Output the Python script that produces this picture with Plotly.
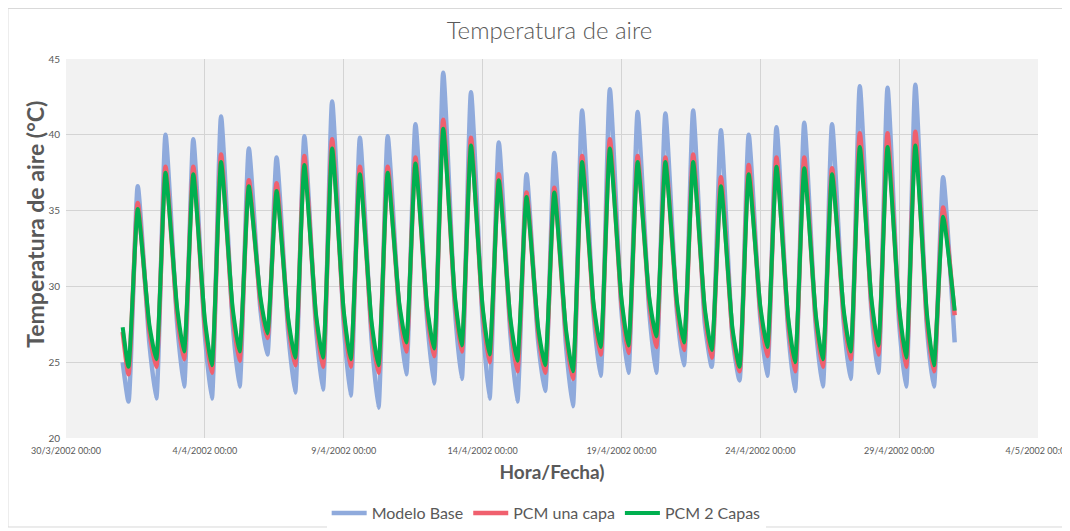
import pandas as pd
import plotly.graph_objects as go

# ---- data ----
dias = pd.date_range("2002-04-01", periods=30, freq="D")
inicio = pd.Timestamp("2002-04-01 01:00")

# daily minimum (~06:00), maximum (~14:00) and value at the following midnight
base_inicio = 25.0
base_min = [22.4, 22.6, 23.4, 22.6, 23.4, 25.5, 23.0, 23.2, 22.8, 22.0,
            24.2, 23.6, 23.9, 22.6, 22.4, 23.1, 22.1, 24.1, 24.3, 24.3,
            24.8, 24.7, 23.8, 24.1, 23.1, 23.4, 23.9, 24.3, 23.4, 23.4]
base_max = [36.6, 40.0, 39.7, 41.2, 39.1, 38.5, 39.9, 42.2, 39.8, 39.9,
            40.7, 44.1, 42.8, 39.5, 37.4, 38.8, 41.6, 43.0, 41.5, 41.4,
            41.6, 40.3, 40.0, 40.5, 40.8, 40.7, 43.2, 43.1, 43.3, 37.2]
base_noche = [26.3, 27.6, 26.8, 27.6, 28.5, 27.0, 27.3, 27.5, 26.6, 28.2,
              27.9, 28.6, 27.7, 26.9, 26.4, 26.2, 28.1, 28.4, 28.4, 28.3,
              27.6, 26.6, 27.9, 27.2, 27.3, 27.7, 28.4, 27.6, 27.3, 26.3]

una_inicio = 27.0
una_min = [24.2, 24.7, 25.2, 24.3, 25.1, 26.6, 24.8, 24.7, 24.7, 24.3,
           25.7, 25.4, 25.7, 25.0, 24.4, 24.3, 23.9, 25.5, 25.6, 26.0,
           25.8, 25.3, 24.4, 25.4, 24.4, 24.7, 25.2, 25.5, 24.7, 24.4]
una_max = [35.5, 37.9, 37.9, 38.7, 37.0, 36.8, 38.6, 39.7, 37.9, 37.9,
           38.5, 41.0, 39.8, 37.4, 36.2, 36.5, 38.6, 39.7, 38.6, 38.5,
           38.7, 37.2, 38.0, 38.5, 38.5, 37.8, 40.1, 40.1, 40.2, 35.2]
una_noche = [27.1, 28.2, 27.4, 28.2, 29.0, 27.6, 27.9, 28.1, 27.3, 28.6,
             28.4, 29.1, 28.4, 27.6, 27.0, 26.9, 28.5, 28.9, 29.0, 28.7,
             28.3, 26.9, 28.4, 27.7, 27.8, 28.2, 28.9, 28.3, 27.8, 28.1]

dos_inicio = 27.3
dos_min = [24.7, 25.2, 25.7, 24.8, 25.7, 26.9, 25.3, 25.3, 25.2, 24.8,
           26.3, 25.9, 26.1, 25.5, 25.1, 24.8, 24.4, 26.0, 26.1, 26.7,
           26.3, 25.8, 24.7, 26.0, 25.0, 25.2, 25.7, 26.1, 25.3, 24.8]
dos_max = [35.1, 37.5, 37.4, 38.2, 36.6, 36.3, 38.0, 39.1, 37.4, 37.5,
           38.1, 40.4, 39.3, 37.0, 35.9, 36.2, 38.2, 39.1, 38.2, 38.2,
           38.2, 36.6, 37.4, 37.9, 37.8, 37.4, 39.2, 39.2, 39.3, 34.6]
dos_noche = [27.5, 28.6, 27.8, 28.6, 29.3, 27.9, 28.2, 28.4, 27.7, 28.9,
             28.7, 29.4, 28.7, 27.9, 27.3, 27.2, 28.8, 29.2, 29.3, 29.0,
             28.6, 27.2, 28.7, 28.0, 28.1, 28.5, 29.2, 28.6, 28.2, 28.4]

x_ticks = pd.date_range("2002-03-30", "2002-05-04", freq="5D")
x_ticktext = [f"{d.day}/{d.month}/{d.year} 00:00" for d in x_ticks]
y_ticks = [20, 25, 30, 35, 40, 45]


def serie(v0, mins, maxs, noches):
    xs, ys = [inicio], [v0]
    for d, a, b, c in zip(dias, mins, maxs, noches):
        xs += [d + pd.Timedelta(hours=6), d + pd.Timedelta(hours=14),
               d + pd.Timedelta(hours=24)]
        ys += [a, b, c]
    return xs, ys


FONT = "Lato, 'Open Sans', sans-serif"
GRAY = "#595959"

fig = go.Figure()
for nombre, datos, color, ancho in [
    ("Modelo Base", (base_inicio, base_min, base_max, base_noche), "#8FAADC", 4.5),
    ("PCM una capa", (una_inicio, una_min, una_max, una_noche), "#F0606E", 4.5),
    ("PCM 2 Capas", (dos_inicio, dos_min, dos_max, dos_noche), "#00B050", 4),
]:
    xs, ys = serie(*datos)
    fig.add_trace(go.Scatter(x=xs, y=ys, mode="lines", name=nombre,
                             line=dict(color=color, width=ancho,
                                       shape="spline", smoothing=0.5)))

fig.update_layout(
    width=1068, height=523,
    margin=dict(l=58, r=38, t=51, b=93, autoexpand=False),
    paper_bgcolor="white",
    plot_bgcolor="#F2F2F2",
    font=dict(family=FONT, color=GRAY),
    title=dict(text="Temperatura de aire", x=0.507, xanchor="center",
               y=0.956, yanchor="middle",
               font=dict(size=24, color=GRAY, family=FONT, weight=300)),
    legend=dict(orientation="h", x=0.494, xanchor="center", y=-0.198,
                yanchor="middle", font=dict(size=16, color=GRAY),
                itemwidth=35, tracegroupgap=0),
    showlegend=True,
    shapes=[dict(type="rect", xref="paper", yref="paper",
                 x0=-0.0597, x1=1.0257, y0=-0.2348, y1=1.1332,
                 line=dict(color="#D9D9D9", width=1), layer="below")],
    annotations=[dict(text="<b>Temperatura de aire (°C)</b>", textangle=-90,
                      xref="paper", yref="paper", x=-0.032, y=0.565,
                      xanchor="center", yanchor="middle", showarrow=False,
                      font=dict(size=23, color=GRAY, family=FONT))],
)

fig.update_xaxes(
    type="date",
    range=[x_ticks[0], x_ticks[-1]],
    tickvals=x_ticks, ticktext=x_ticktext,
    tickfont=dict(size=9, color=GRAY),
    ticklabelstandoff=6,
    showgrid=True, gridcolor="#D4D4D4", gridwidth=1,
    zeroline=False, showline=False,
    title=dict(text="<b>Hora/Fecha)</b>", font=dict(size=19, color=GRAY),
               standoff=10),
)
fig.update_yaxes(
    range=[20, 45],
    tickvals=y_ticks,
    tickfont=dict(size=10, color=GRAY),
    ticklabelstandoff=5,
    showgrid=True, gridcolor="#D4D4D4", gridwidth=1,
    zeroline=False, showline=False,
)

fig.write_html("out.html")
